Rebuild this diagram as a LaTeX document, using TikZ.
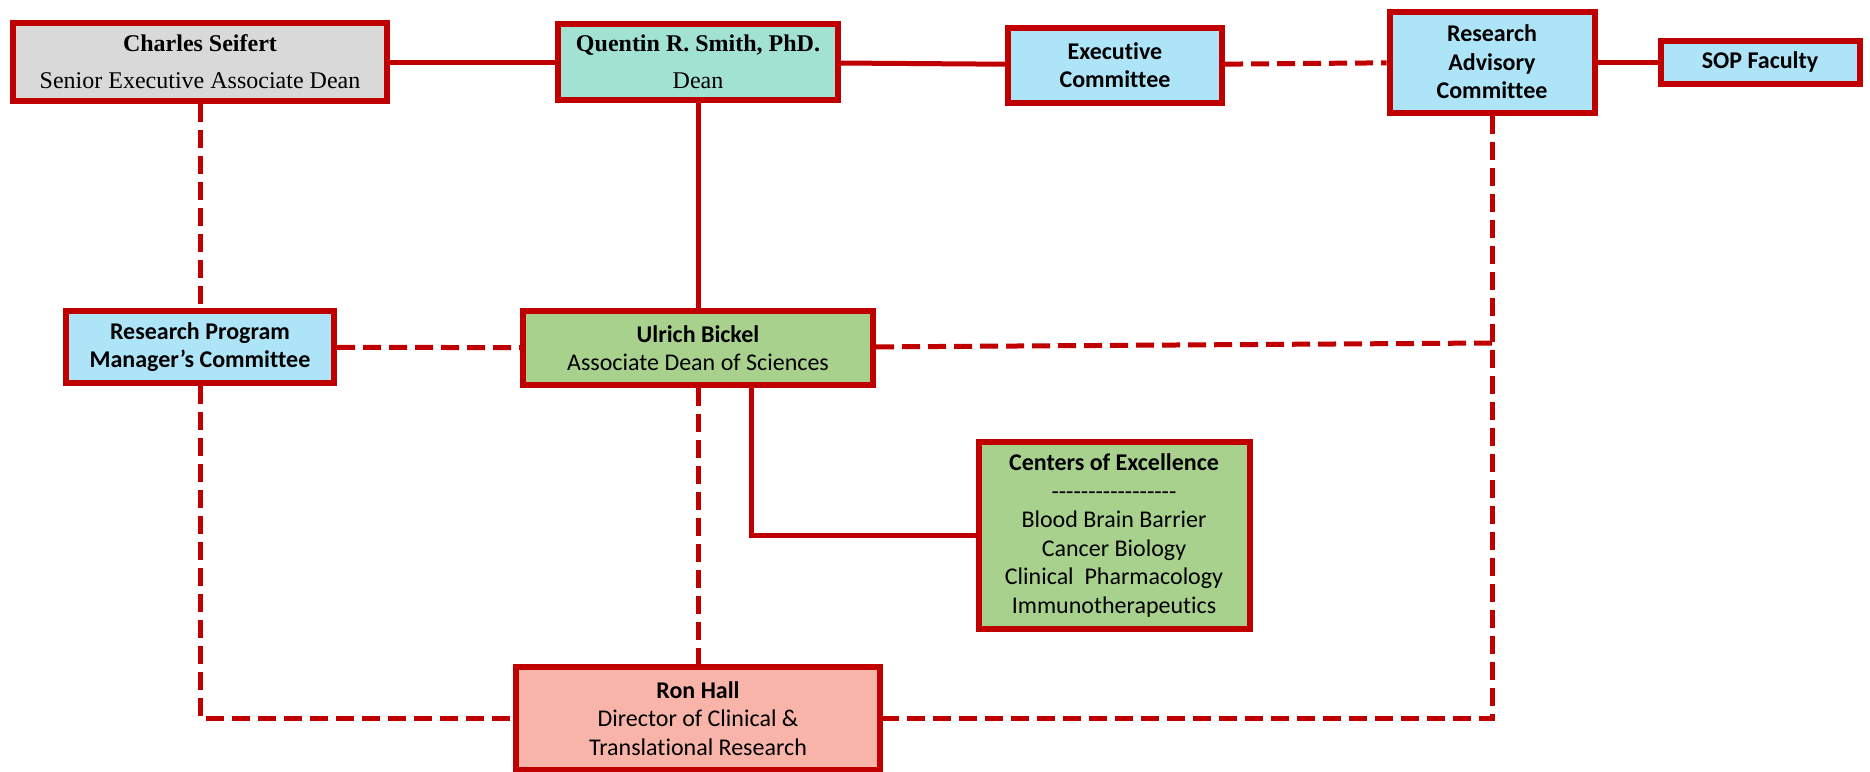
\documentclass[tikz,border=0pt]{standalone}
\usepackage{fontspec}
\setmainfont{Carlito}[Ligatures={NoCommon}]
\newfontfamily\timesfont{Liberation Serif}
\usetikzlibrary{positioning}
\definecolor{orgred}{HTML}{C00000}
\definecolor{greyfill}{HTML}{D9D9D9}
\definecolor{tealfill}{HTML}{A2E2D2}
\definecolor{bluefill}{HTML}{ADE4F7}
\definecolor{greenfill}{HTML}{A9D18E}
\definecolor{salmonfill}{HTML}{F8B4A8}

\begin{document}
\begin{tikzpicture}[x=1pt,y=-1pt,on grid,
    box/.style={draw=orgred,line width=6pt,align=center,inner sep=0pt,
        font=\fontsize{24pt}{28.6pt}\selectfont},
    boldbox/.style={box,font=\fontsize{24pt}{28.6pt}\selectfont\bfseries},
    tbox/.style={box,font=\timesfont\fontsize{24pt}{37pt}\selectfont},
    link/.style={draw=orgred,line width=5pt},
    dlink/.style={link,dash pattern=on 18pt off 8pt}]
    \useasboundingbox (0,0) rectangle (1870,771);

    \node[tbox,fill=greyfill,minimum width=374pt,minimum height=78pt] (seifert) at (200,62)
        {\textbf{Charles Seifert}\\Senior Executive Associate Dean};
    \node[tbox,fill=tealfill,minimum width=280pt,minimum height=76pt] (smith) [right=498pt of seifert]
        {\textbf{Quentin R. Smith, PhD.}\\Dean};
    \node[boldbox,fill=bluefill,minimum width=214pt,minimum height=75pt] (exec_comm) [right=417pt of smith,yshift=-3pt]
        {Executive\\Committee};
    \node[boldbox,fill=bluefill,minimum width=205pt,minimum height=101pt] (res_adv) [right=794pt of smith]
        {Research\\Advisory\\Committee};
    \node[boldbox,fill=bluefill,minimum width=199pt,minimum height=43pt] (sop_fac) [right=268pt of res_adv]
        {SOP Faculty};
    \node[boldbox,fill=bluefill,minimum width=268pt,minimum height=72pt] (rpm_comm) [below=285pt of seifert]
        {Research Program\\Manager’s Committee};
    \node[box,fill=greenfill,minimum width=350pt,minimum height=74pt] (bickel) [below=286pt of smith]
        {\textbf{Ulrich Bickel}\\Associate Dean of Sciences};
    \node[box,fill=greenfill,minimum width=271pt,minimum height=187pt] (centers) [below right=473.5pt and 416pt of smith]
        {\textbf{Centers of Excellence}\\-{}-{}-{}-{}-{}-{}-{}-{}-{}-{}-{}-{}-{}-{}-{}-{}-\\Blood Brain Barrier\\Cancer Biology\\Clinical\ \ Pharmacology\\Immunotherapeutics};
    \node[box,fill=salmonfill,minimum width=364pt,minimum height=103pt] (hall) [below=370.5pt of bickel]
        {\textbf{Ron Hall}\\Director of Clinical \&\\Translational Research};

    \coordinate (ra_join) at (1492,343);

    \path
    (seifert) edge [link]  (smith)
    (smith)   edge [link]  (exec_comm)
              edge [link]  (bickel)
    (exec_comm) edge [dlink] (res_adv)
    (res_adv) edge [link]  (sop_fac)
    (seifert) edge [dlink] (rpm_comm)
    (rpm_comm) edge [dlink] (bickel)
    (bickel)  edge [dlink] (ra_join)
              edge [dlink] (hall)
    ;
    \draw[dlink] (res_adv) |- (hall);
    \draw[dlink] (rpm_comm) |- (hall);
    \draw[link] ([xshift=53pt]bickel.south) |- (centers);
\end{tikzpicture}
\end{document}
